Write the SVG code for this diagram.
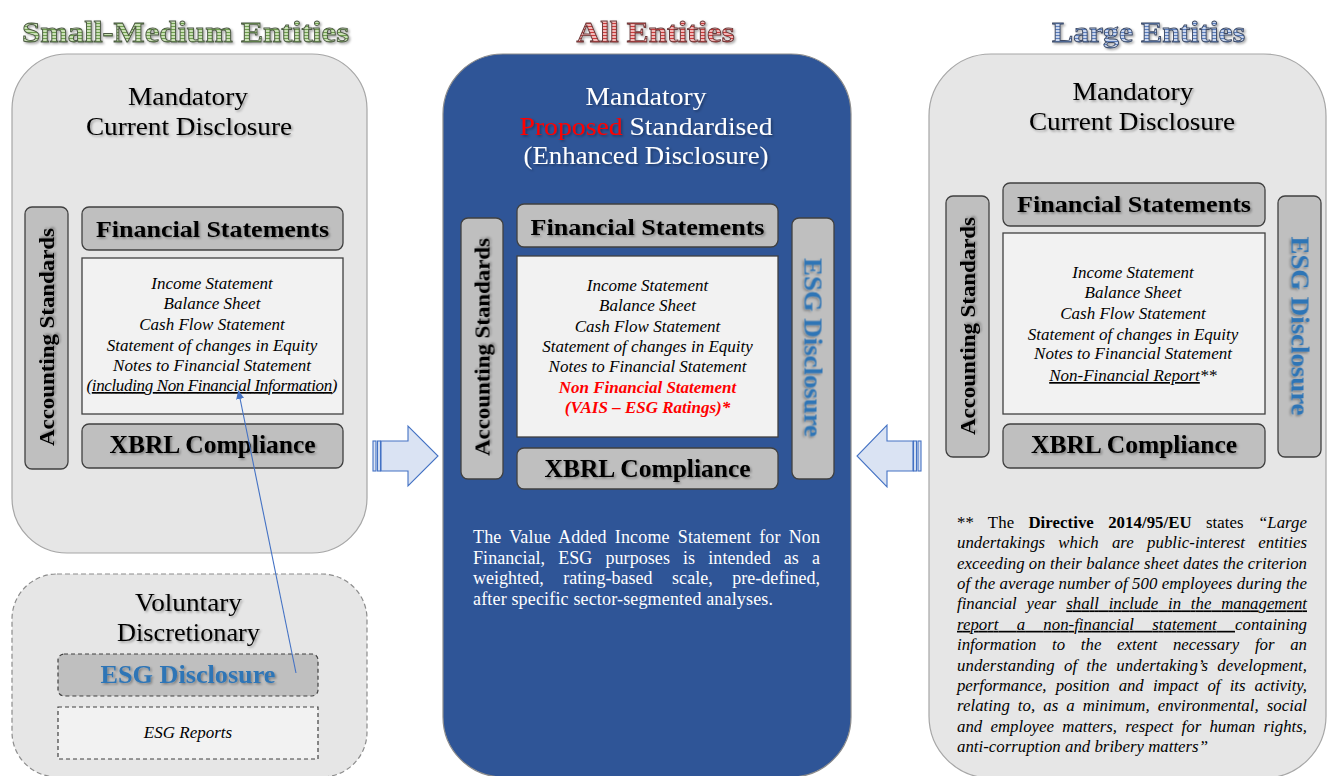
<svg xmlns="http://www.w3.org/2000/svg" width="1327" height="776" viewBox="0 0 1327 776">
<defs>
<style>
text{font-family:"Liberation Serif","Times New Roman",serif}
.panel{fill:#e6e6e6;stroke:#a6a6a6;stroke-width:1.2}
.dash{fill:#e6e6e6;stroke:#8c8c8c;stroke-width:1.2;stroke-dasharray:5 3}
.blue{fill:#2f5597;stroke:#8c8c8c;stroke-width:1.2}
.box{fill:#bfbfbf;stroke:#404040;stroke-width:1.3}
.list{fill:#f2f2f2;stroke:#404040;stroke-width:1.3}
.hd{font-size:25px;text-anchor:middle;fill:#000;filter:url(#sh)}
.wh{fill:#fff}
.bt{font-size:24px;font-weight:bold;text-anchor:middle;fill:#000;filter:url(#sh)}
.xb{font-size:26px;font-weight:bold;text-anchor:middle;fill:#000;filter:url(#sh)}
.vt{font-size:22px;font-weight:bold;text-anchor:middle;fill:#000;filter:url(#sh)}
.esg{font-size:26px;font-weight:bold;text-anchor:middle;fill:#2e75b6;filter:url(#sh)}
.it{font-size:17px;font-style:italic;text-anchor:middle;fill:#000}
.red{fill:#ff0000;font-weight:bold}
.ti{font-size:30px;font-weight:bold;text-anchor:middle;stroke-width:0.9;filter:url(#sh)}
.pc{font-size:18px;fill:#fff}
.pr{font-size:16.8px;font-style:italic;fill:#000}
.barrow{fill:#dae3f3;stroke:#4472c4;stroke-width:1.1}
</style>
<filter id="sh" x="-10%" y="-30%" width="120%" height="160%">
<feDropShadow dx="1.5" dy="1.5" stdDeviation="1" flood-color="#000" flood-opacity="0.35"/>
</filter>
<pattern id="pg" width="4" height="3" patternUnits="userSpaceOnUse"><rect width="4" height="3" fill="#c9e0b5"/><rect y="2" width="4" height="1" fill="#6f9f50"/></pattern>
<pattern id="pr" width="4" height="3" patternUnits="userSpaceOnUse"><rect width="4" height="3" fill="#f2b8b8"/><rect y="2" width="4" height="1" fill="#c83c3c"/></pattern>
<pattern id="pb" width="4" height="3" patternUnits="userSpaceOnUse"><rect width="4" height="3" fill="#c9d6ee"/><rect y="2" width="4" height="1" fill="#5b7fbf"/></pattern>
<marker id="ah" markerWidth="9" markerHeight="8" refX="8" refY="4" orient="auto" markerUnits="userSpaceOnUse"><path d="M0,0 L9,4 L0,8 Z" fill="#4472c4"/></marker>
</defs>

<g id="titles">
<text class="ti" x="185.5" y="42" textLength="327" lengthAdjust="spacingAndGlyphs" fill="url(#pg)" stroke="#4d5a44">Small-Medium Entities</text>
<text class="ti" x="655.5" y="42" textLength="158" lengthAdjust="spacingAndGlyphs" fill="url(#pr)" stroke="#6b3b3b">All Entities</text>
<text class="ti" x="1148.5" y="42" textLength="193" lengthAdjust="spacingAndGlyphs" fill="url(#pb)" stroke="#3f4c66">Large Entities</text>
</g>

<g id="sme-mandatory">
<rect class="panel" x="12" y="54" width="355" height="499" rx="55"/>
<text class="hd" x="188" y="105" textLength="120" lengthAdjust="spacingAndGlyphs">Mandatory</text>
<text class="hd" x="189" y="135" textLength="206" lengthAdjust="spacingAndGlyphs">Current Disclosure</text>
</g>
<g id="sme-accounting-standards">
<rect class="box" x="25" y="207" width="43" height="262" rx="7"/>
<text class="vt" transform="translate(54,337) rotate(-90)" textLength="218" lengthAdjust="spacingAndGlyphs">Accounting Standards</text>
</g>
<g id="sme-financial-statements">
<rect class="box" x="82" y="207" width="261" height="43" rx="7"/>
<text class="bt" x="212.5" y="237" textLength="233" lengthAdjust="spacingAndGlyphs">Financial Statements</text>
</g>
<g id="sme-statements-list">
<rect class="list" x="82" y="258" width="261" height="156"/>
<text class="it" x="212" y="289">Income Statement</text>
<text class="it" x="212" y="309">Balance Sheet</text>
<text class="it" x="212" y="330">Cash Flow Statement</text>
<text class="it" x="212" y="351">Statement of changes in Equity</text>
<text class="it" x="212" y="371">Notes to Financial Statement</text>
<text class="it" x="212" y="391" textLength="251">(<tspan text-decoration="underline">including Non Financial Information</tspan>)</text>
</g>
<g id="sme-xbrl">
<rect class="box" x="82" y="424" width="261" height="44" rx="7"/>
<text class="xb" x="212.5" y="453" textLength="206" lengthAdjust="spacingAndGlyphs">XBRL Compliance</text>
</g>

<g id="sme-voluntary">
<rect class="dash" x="12" y="574" width="355" height="203" rx="45"/>
<text class="hd" x="188.5" y="611" textLength="107" lengthAdjust="spacingAndGlyphs">Voluntary</text>
<text class="hd" x="188.5" y="641" textLength="143" lengthAdjust="spacingAndGlyphs">Discretionary</text>
</g>
<g id="sme-esg-disclosure">
<rect x="58" y="654" width="260" height="42" rx="6" fill="#bfbfbf" stroke="#404040" stroke-width="1.2" stroke-dasharray="4 3"/>
<text class="esg" x="188" y="683" textLength="175" lengthAdjust="spacingAndGlyphs">ESG Disclosure</text>
</g>
<g id="sme-esg-reports">
<rect x="58" y="707" width="260" height="52" fill="#f2f2f2" stroke="#404040" stroke-width="1.2" stroke-dasharray="4 3"/>
<text class="it" x="188" y="738">ESG Reports</text>
</g>

<g id="all-mandatory">
<rect class="blue" x="443" y="54" width="408" height="723" rx="60"/>
<text class="hd wh" x="646" y="105" textLength="121" lengthAdjust="spacingAndGlyphs">Mandatory</text>
<text class="hd wh" x="646" y="135" textLength="253" lengthAdjust="spacingAndGlyphs"><tspan fill="#ff0000">Proposed</tspan> Standardised</text>
<text class="hd wh" x="646" y="164" textLength="245" lengthAdjust="spacingAndGlyphs">(Enhanced Disclosure)</text>
<text class="pc" x="473" y="543" textLength="347" lengthAdjust="spacing" word-spacing="3.5">The Value Added Income Statement for Non</text>
<text class="pc" x="473" y="564" textLength="347" lengthAdjust="spacing" word-spacing="8.5">Financial, ESG purposes is intended as a</text>
<text class="pc" x="473" y="584" textLength="347" lengthAdjust="spacing" word-spacing="15">weighted, rating-based scale, pre-defined,</text>
<text class="pc" x="473" y="605" textLength="300" lengthAdjust="spacing">after specific sector-segmented analyses.</text>
</g>
<g id="all-accounting-standards">
<rect class="box" x="461" y="218" width="42" height="261" rx="7"/>
<text class="vt" transform="translate(489.5,347) rotate(-90)" textLength="218" lengthAdjust="spacingAndGlyphs">Accounting Standards</text>
</g>
<g id="all-financial-statements">
<rect class="box" x="517" y="204" width="261" height="43" rx="7"/>
<text class="bt" x="647.5" y="235" textLength="234" lengthAdjust="spacingAndGlyphs">Financial Statements</text>
</g>
<g id="all-statements-list">
<rect class="list" x="517" y="256" width="261" height="181"/>
<text class="it" x="647.5" y="291">Income Statement</text>
<text class="it" x="647.5" y="311">Balance Sheet</text>
<text class="it" x="647.5" y="332">Cash Flow Statement</text>
<text class="it" x="647.5" y="352">Statement of changes in Equity</text>
<text class="it" x="647.5" y="372">Notes to Financial Statement</text>
<text class="it red" x="647.5" y="393">Non Financial Statement</text>
<text class="it red" x="647.5" y="413">(VAIS – ESG Ratings)*</text>
</g>
<g id="all-xbrl">
<rect class="box" x="517" y="448" width="261" height="41" rx="7"/>
<text class="xb" x="647.5" y="477" textLength="206" lengthAdjust="spacingAndGlyphs">XBRL Compliance</text>
</g>
<g id="all-esg-disclosure">
<rect class="box" x="792" y="218" width="42" height="261" rx="7"/>
<text class="esg" transform="translate(804.5,347.5) rotate(90)" textLength="179" lengthAdjust="spacingAndGlyphs">ESG Disclosure</text>
</g>

<g id="large-mandatory">
<rect class="panel" x="929" y="54" width="397" height="724" rx="62"/>
<text class="hd" x="1133" y="100" textLength="121" lengthAdjust="spacingAndGlyphs">Mandatory</text>
<text class="hd" x="1132" y="130" textLength="206" lengthAdjust="spacingAndGlyphs">Current Disclosure</text>
<text class="pr" x="957" y="528" textLength="350" lengthAdjust="spacing" word-spacing="10"><tspan font-style="normal">** The </tspan><tspan font-style="normal" font-weight="bold">Directive 2014/95/EU</tspan><tspan font-style="normal"> states </tspan>“Large</text>
<text class="pr" x="957" y="548.4" textLength="350" lengthAdjust="spacing" word-spacing="9">undertakings which are public-interest entities</text>
<text class="pr" x="957" y="568.7" textLength="350" lengthAdjust="spacing">exceeding on their balance sheet dates the criterion</text>
<text class="pr" x="957" y="589.1" textLength="350" lengthAdjust="spacing">of the average number of 500 employees during the</text>
<text class="pr" x="957" y="609.4" textLength="350" lengthAdjust="spacing" word-spacing="5.6">financial year <tspan text-decoration="underline">shall include in the management</tspan></text>
<text class="pr" x="957" y="629.8" textLength="350" lengthAdjust="spacing" word-spacing="14"><tspan text-decoration="underline">report a non-financial statement </tspan>containing</text>
<text class="pr" x="957" y="650.2" textLength="350" lengthAdjust="spacing" word-spacing="11.5">information to the extent necessary for an</text>
<text class="pr" x="957" y="670.5" textLength="350" lengthAdjust="spacing" word-spacing="5">understanding of the undertaking’s development,</text>
<text class="pr" x="957" y="690.9" textLength="350" lengthAdjust="spacing" word-spacing="5">performance, position and impact of its activity,</text>
<text class="pr" x="957" y="711.2" textLength="350" lengthAdjust="spacing" word-spacing="3.8">relating to, as a minimum, environmental, social</text>
<text class="pr" x="957" y="731.6" textLength="350" lengthAdjust="spacing" word-spacing="4">and employee matters, respect for human rights,</text>
<text class="pr" x="957" y="752" textLength="251" lengthAdjust="spacing">anti-corruption and bribery matters”</text>
</g>
<g id="large-accounting-standards">
<rect class="box" x="946" y="196" width="43" height="261" rx="7"/>
<text class="vt" transform="translate(975,326) rotate(-90)" textLength="218" lengthAdjust="spacingAndGlyphs">Accounting Standards</text>
</g>
<g id="large-financial-statements">
<rect class="box" x="1003" y="183" width="262" height="43" rx="7"/>
<text class="bt" x="1134" y="212" textLength="234" lengthAdjust="spacingAndGlyphs">Financial Statements</text>
</g>
<g id="large-statements-list">
<rect class="list" x="1003" y="233" width="262" height="181"/>
<text class="it" x="1133" y="278">Income Statement</text>
<text class="it" x="1133" y="298">Balance Sheet</text>
<text class="it" x="1133" y="319">Cash Flow Statement</text>
<text class="it" x="1133" y="340">Statement of changes in Equity</text>
<text class="it" x="1133" y="359">Notes to Financial Statement</text>
<text class="it" x="1133" y="381"><tspan text-decoration="underline">Non-Financial Report</tspan>**</text>
</g>
<g id="large-xbrl">
<rect class="box" x="1003" y="424" width="262" height="44" rx="7"/>
<text class="xb" x="1134" y="453" textLength="206" lengthAdjust="spacingAndGlyphs">XBRL Compliance</text>
</g>
<g id="large-esg-disclosure">
<rect class="box" x="1278" y="196" width="43" height="261" rx="7"/>
<text class="esg" transform="translate(1291.5,326) rotate(90)" textLength="179" lengthAdjust="spacingAndGlyphs">ESG Disclosure</text>
</g>

<g id="connectors">
<line x1="296" y1="673" x2="238.5" y2="391" stroke="#4472c4" stroke-width="1.1" marker-end="url(#ah)"/>
<g id="arrow-right">
<rect class="barrow" x="373" y="441" width="3" height="30"/>
<rect class="barrow" x="377.5" y="441" width="3" height="30"/>
<path class="barrow" d="M381,441 H408 V426 L438,456 L408,486 V471 H381 Z"/>
</g>
<g id="arrow-left">
<rect class="barrow" x="918" y="441" width="3" height="30"/>
<rect class="barrow" x="913.5" y="441" width="3" height="30"/>
<path class="barrow" d="M913,441 H887 V425 L857,456 L887,487 V471 H913 Z"/>
</g>
</g>
</svg>
